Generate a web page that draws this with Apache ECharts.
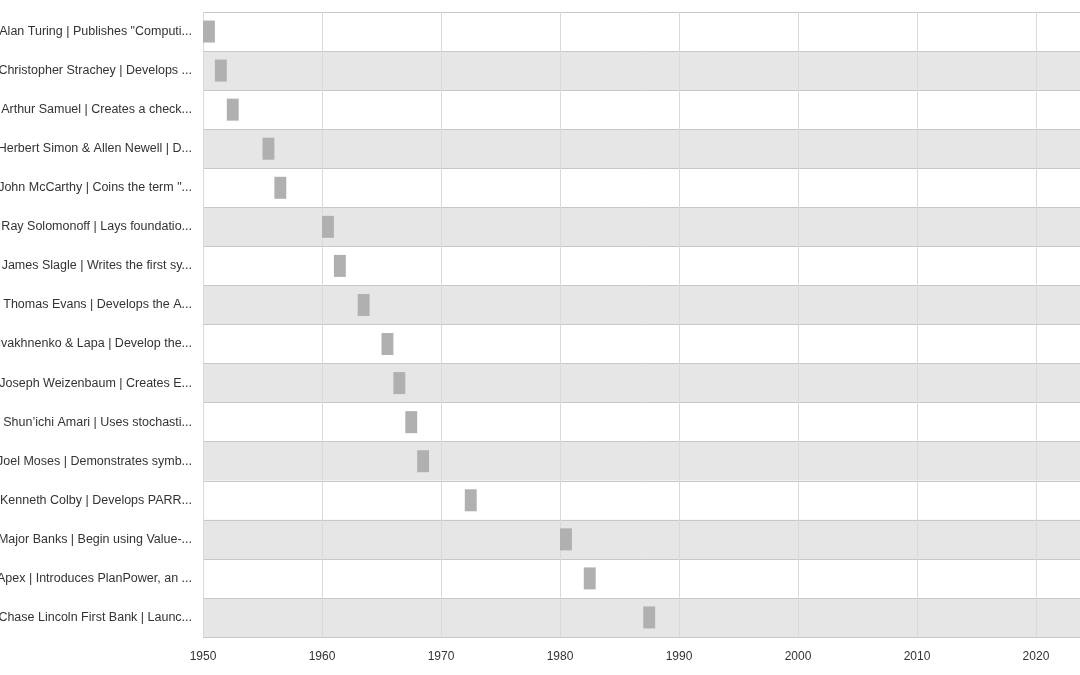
<!DOCTYPE html><html><head><meta charset="utf-8"><script src="https://cdn.jsdelivr.net/npm/echarts@6/dist/echarts.min.js"></script>
<style>html,body{margin:0;padding:0}#c{width:1080px;height:675px}</style></head><body><div id="c"></div><script>
const categories=['Alan Turing | Publishes "Computing Machinery and Intelligence"','Christopher Strachey | Develops a checkers program','Arthur Samuel | Creates a checkers-playing program','Herbert Simon & Allen Newell | Develop the Logic Theorist','John McCarthy | Coins the term "artificial intelligence"','Ray Solomonoff | Lays foundations of algorithmic probability','James Slagle | Writes the first symbolic integration program','Thomas Evans | Develops the ANALOGY program','Ivakhnenko & Lapa | Develop the first deep learning networks','Joseph Weizenbaum | Creates ELIZA','Shun\u2019ichi Amari | Uses stochastic gradient descent','Joel Moses | Demonstrates symbolic reasoning in Macsyma','Kenneth Colby | Develops PARRY, a chatbot','Major Banks | Begin using Value-based expert systems','Apex | Introduces PlanPower, an expert system','Chase Lincoln First Bank | Launches expert system'];
const starts=[1950,1951,1952,1955,1956,1960,1961,1963,1965,1966,1967,1968,1972,1980,1982,1987];
const durations=[1,1,1,1,1,1,1,1,1,1,1,1,1,1,1,1];
const ch=echarts.init(document.getElementById('c'));
ch.setOption({animation:false,
grid:{left:203,right:0,top:12,bottom:38,outerBoundsMode:'none',containLabel:false},
xAxis:{type:'value',min:1950,max:2023.7,interval:10,axisLine:{show:false},axisTick:{show:false},
 axisLabel:{color:'#333',fontSize:12,fontFamily:'Liberation Sans',margin:14,formatter:v=>v%10===0?String(v):''},
 splitLine:{lineStyle:{color:'#dadada'}}},
yAxis:{type:'category',inverse:true,data:categories,axisTick:{show:false},axisLine:{show:false},
 axisLabel:{color:'#333',fontSize:12.5,fontFamily:'Liberation Sans',margin:11,width:198,overflow:'truncate',align:'right'},
 splitLine:{show:true,lineStyle:{color:'#c8c8c8'}},
 splitArea:{show:true,areaStyle:{color:['#ffffff','#e6e6e6']}}},
series:[
 {type:'bar',stack:'a',data:starts,itemStyle:{color:'transparent'},barWidth:22,silent:true},
 {type:'bar',stack:'a',data:durations,itemStyle:{color:'#b0b0b0'},barWidth:22}
]});
</script></body></html>
